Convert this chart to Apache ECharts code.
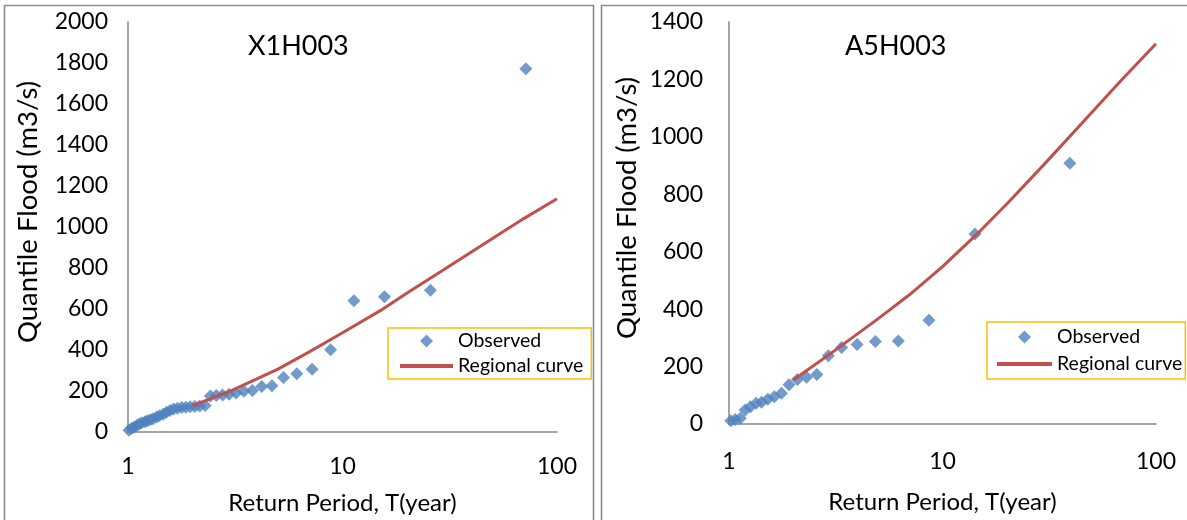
<!DOCTYPE html>
<html>
<head>
<meta charset="utf-8">
<script src="https://cdn.jsdelivr.net/npm/echarts@6/dist/echarts.min.js"></script>
<style>
  html, body { margin: 0; padding: 0; background: #fff; }
  #chart { width: 1187px; height: 520px; }
</style>
</head>
<body>
<div id="chart"></div>
<script>
// Station X1H003: observed annual floods (return period, discharge)
const obsT_X1H003 = [71.6, 25.7, 15.7, 11.3, 8.80, 7.22, 6.12, 5.31, 4.69, 4.20,
                     3.80, 3.47, 3.19, 2.96, 2.76, 2.58, 2.42, 2.29, 2.16, 2.05,
                     1.95, 1.86, 1.78, 1.70, 1.63, 1.57, 1.51, 1.46, 1.40, 1.36,
                     1.31, 1.27, 1.23, 1.20, 1.16, 1.13, 1.10, 1.07, 1.04, 1.01];
const obsQ_X1H003 = [1772, 692, 660, 640, 401, 306, 284, 266, 226, 222,
                     202, 199, 190, 184, 180, 178, 176, 129, 127, 125,
                     123, 121, 119, 116, 112, 105, 96, 87, 79, 73,
                     65, 60, 55, 50, 45, 39, 32, 25, 18, 8];

// Station A5H003: observed annual floods
const obsT_A5H003 = [39.5, 14.2, 8.64, 6.21, 4.85, 3.98, 3.37, 2.92, 2.58, 2.31, 2.09,
                     1.91, 1.76, 1.63, 1.52, 1.42, 1.34, 1.26, 1.19, 1.13, 1.07, 1.02];
const obsQ_A5H003 = [908, 662, 361, 289, 287, 277, 266, 238, 172, 163, 155,
                     137, 107, 95, 86, 76, 72, 60, 49, 20, 16, 11];

// Regional growth curves
const curveT = [2, 3, 5, 7, 10, 15, 20, 30, 50, 70, 100];
const curveQ_X1H003 = [129, 199, 307, 391, 484, 592, 678, 795, 944, 1041, 1138];
const curveQ_A5H003 = [153, 246, 367, 450, 548, 672, 766, 905, 1085, 1203, 1324];

const stationNames = ['X1H003', 'A5H003'];
const seriesNames = ['Observed', 'Regional curve'];
const xAxisTitle = 'Return Period, T(year)';
const yAxisTitle = 'Quantile Flood (m3/s)';

const pair = (xs, ys) => xs.map((x, i) => [x, ys[i]]);

const FONT = 'Lato';
const AXIS_COLOR = '#868686';
const BLUE = '#4F81BD';
const RED = '#C0504D';

// Legend marker: a square-proportioned diamond centred in a wide icon box
// (the leading move-to points pin the box size so the diamond is not stretched)
function diamondIcon(w, h) {
  const c = w / 2, r = h / 2;
  return `path://M0,0 M${w},${h} M${c},0 L${c + r},${r} L${c},${h} L${c - r},${r} Z`;
}

function xAxisFor(idx, labelMargin, nameGap) {
  return {
    type: 'log', logBase: 10, min: 1, max: 100, gridIndex: idx,
    name: xAxisTitle, nameLocation: 'middle', nameGap: nameGap,
    nameTextStyle: { fontFamily: FONT, fontSize: 24, color: '#000' },
    axisLine: { lineStyle: { color: AXIS_COLOR, width: 1.5 } },
    axisTick: { show: false },
    splitLine: { show: false },
    minorTick: { show: false },
    axisLabel: { fontFamily: FONT, fontSize: 23, color: '#000', margin: labelMargin,
                 formatter: v => String(v) }
  };
}

function yAxisFor(idx, max, labelMargin, nameGap) {
  return {
    type: 'value', min: 0, max: max, interval: 200, gridIndex: idx,
    name: yAxisTitle, nameLocation: 'middle', nameGap: nameGap, nameRotate: 90,
    nameTextStyle: { fontFamily: FONT, fontSize: 27.5, color: '#000', padding: [0, 0, 0, 30] },
    axisLine: { show: true, lineStyle: { color: AXIS_COLOR, width: 1.5 } },
    axisTick: { show: false },
    splitLine: { show: false },
    axisLabel: { fontFamily: FONT, fontSize: 23, color: '#000', margin: labelMargin,
                 formatter: v => String(v) }
  };
}

function legendFor(left, top, itemWidth, gap, padding) {
  return {
    orient: 'vertical', left: left, top: top,
    data: [
      { name: seriesNames[0], icon: diamondIcon(itemWidth, 13) },
      { name: seriesNames[1], itemStyle: { opacity: 0 } }
    ],
    itemWidth: itemWidth, itemHeight: 13, itemGap: gap,
    padding: padding,
    backgroundColor: '#fff',
    borderColor: '#FFC000', borderWidth: 1.5, borderRadius: 0,
    selectedMode: false,
    lineStyle: { width: 4, color: RED },
    textStyle: { fontFamily: FONT, fontSize: 19.5, color: '#000' }
  };
}

const chart = echarts.init(document.getElementById('chart'), null, { renderer: 'canvas' });

chart.setOption({
  backgroundColor: '#fff',
  animation: false,
  graphic: [
    { type: 'rect', shape: { x: 4.5, y: 5.5, width: 589, height: 530 },
      style: { fill: 'none', stroke: '#8c8c8c', lineWidth: 1.6 }, z: -1 },
    { type: 'rect', shape: { x: 601.5, y: 5.5, width: 600, height: 530 },
      style: { fill: 'none', stroke: '#8c8c8c', lineWidth: 1.6 }, z: -1 }
  ],
  title: [
    { text: stationNames[0], left: 243, top: 28,
      textStyle: { fontFamily: FONT, fontSize: 27, fontWeight: 'normal', color: '#000' } },
    { text: stationNames[1], left: 840, top: 28,
      textStyle: { fontFamily: FONT, fontSize: 27, fontWeight: 'normal', color: '#000' } }
  ],
  grid: [
    { left: 128, top: 22, width: 429, height: 413 },
    { left: 729, top: 22, width: 427, height: 402 }
  ],
  xAxis: [xAxisFor(0, 23, 59), xAxisFor(1, 26, 66)],
  yAxis: [yAxisFor(0, 2000, 20, 86), yAxisFor(1, 1400, 26, 88)],
  legend: [
    legendFor(388, 328, 53, 5, [3, 8, 3, 10]),
    legendFor(987, 322, 55, 7, [5, 3, 5, 8])
  ],
  series: [
    { name: seriesNames[0], type: 'scatter', xAxisIndex: 0, yAxisIndex: 0,
      symbol: 'diamond', symbolSize: 13, itemStyle: { color: BLUE },
      data: pair(obsT_X1H003, obsQ_X1H003), z: 3 },
    { name: seriesNames[1], type: 'line', xAxisIndex: 0, yAxisIndex: 0,
      symbol: 'none', lineStyle: { color: RED, width: 3 }, itemStyle: { color: RED },
      data: pair(curveT, curveQ_X1H003), z: 4 },
    { name: seriesNames[0], type: 'scatter', xAxisIndex: 1, yAxisIndex: 1,
      symbol: 'diamond', symbolSize: 13, itemStyle: { color: BLUE },
      data: pair(obsT_A5H003, obsQ_A5H003), z: 3 },
    { name: seriesNames[1], type: 'line', xAxisIndex: 1, yAxisIndex: 1,
      symbol: 'none', lineStyle: { color: RED, width: 3 }, itemStyle: { color: RED },
      data: pair(curveT, curveQ_A5H003), z: 4 }
  ]
});
</script>
</body>
</html>
